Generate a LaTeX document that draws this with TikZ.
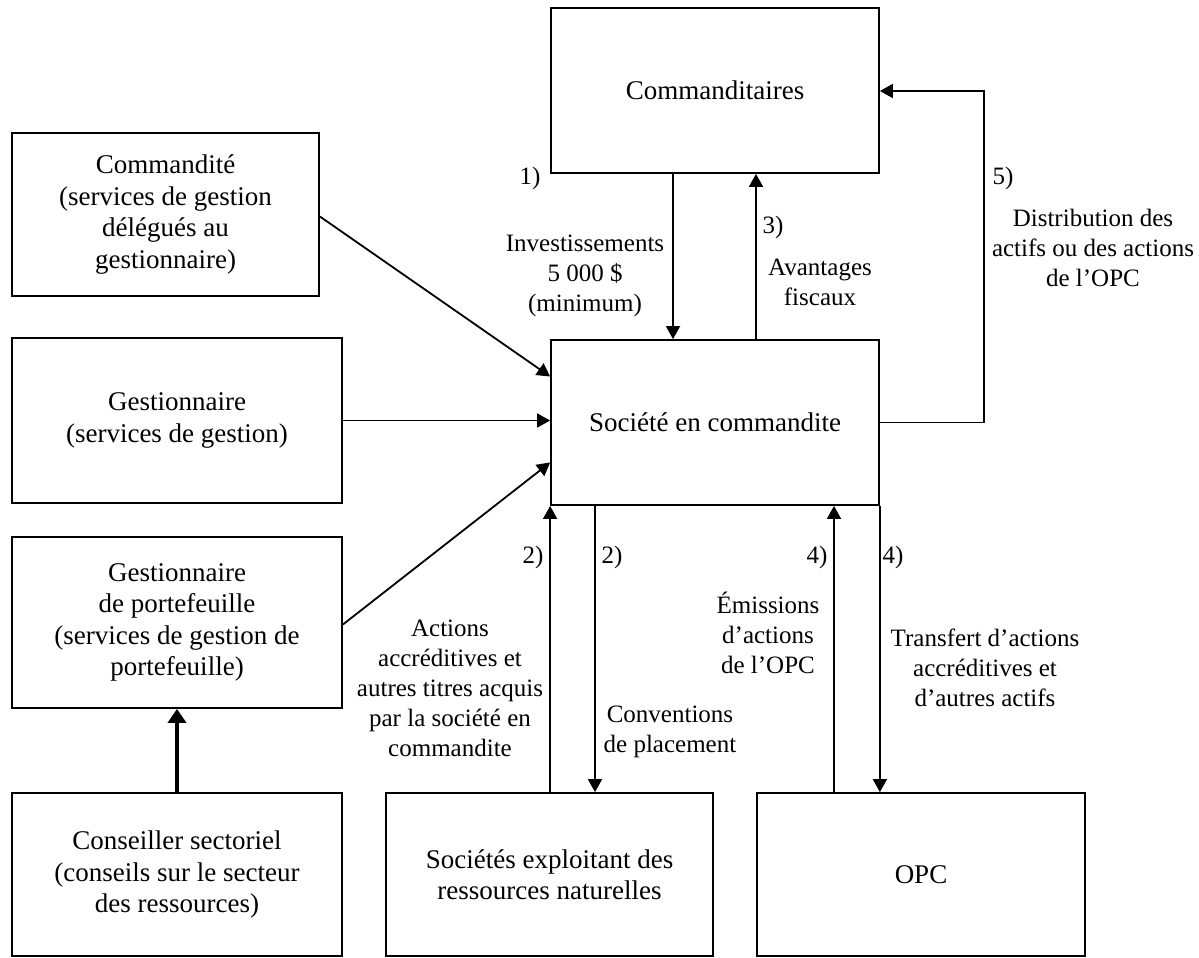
\documentclass[tikz,border=0pt]{standalone}
\usepackage{fontspec}
\setmainfont{Liberation Serif}
\usetikzlibrary{arrows.meta,calc}
\begin{document}
\begin{tikzpicture}[x=0.5pt,y=-0.5pt,
  box/.style={draw,line width=0.9pt,inner sep=0pt,align=center,font=\fontsize{13.5}{15.7}\selectfont},
  lbl/.style={inner sep=0pt,align=center,font=\fontsize{12.5}{15}\selectfont},
  arr/.style={line width=0.9pt,-{Triangle[length=6.5pt,width=7pt]}},
  thickarr/.style={line width=2pt,-{Triangle[length=7pt,width=9pt]}}]
\useasboundingbox (0,0) rectangle (1199,958);
% boxes
\node[box,minimum width=164pt,minimum height=82.5pt] (cmt) at (715,90.5) {Commanditaires};
\node[box,minimum width=153.5pt,minimum height=81.5pt] (cmd) at (165.5,214.5) {Commandité\\(services de gestion\\délégués au\\gestionnaire)};
\node[box,minimum width=165pt,minimum height=82.5pt] (gest) at (177,420.5) {Gestionnaire\\(services de gestion)};
\node[box,minimum width=165pt,minimum height=85.5pt] (gp) at (177,622.5) {Gestionnaire\\de portefeuille\\(services de gestion de\\portefeuille)};
\node[box,minimum width=165pt,minimum height=81.5pt] (cons) at (177,874.5) {Conseiller sectoriel\\(conseils sur le secteur\\des ressources)};
\node[box,minimum width=164pt,minimum height=82.5pt] (sce) at (715,422.5) {Société en commandite};
\node[box,minimum width=163.5pt,minimum height=81.5pt] (sex) at (549.5,874.5) {Sociétés exploitant des\\ressources naturelles};
\node[box,minimum width=164pt,minimum height=81.5pt] (opc) at (921,874.5) {OPC};
% helper coordinates
\coordinate (xa) at (673,0);
\coordinate (xb) at (756,0);
\coordinate (xc) at (595,0);
\coordinate (xd) at (834,0);
\coordinate (c5) at (984,91);
% connectors
\draw[arr] (cmt.south -| xa) -- (sce.north -| xa);
\draw[arr] (sce.north -| xb) -- (cmt.south -| xb);
\draw[arr] (sce.east) -| (c5) -- (c5 -| cmt.east);
\draw[arr] ([yshift=-1pt]cmd.east) -- ([yshift=23pt]sce.west);
\draw[arr] (gest.east) -- (gest.east -| sce.west);
\draw[arr] ([yshift=-1pt]gp.east) -- ([yshift=-20pt]sce.west);
\draw[thickarr] (cons.north) -- (gp.south);
\draw[arr] (sex.north -| sce.west) -- (sce.south west);
\draw[arr] (sce.south -| xc) -- (sex.north -| xc);
\draw[arr] (opc.north -| xd) -- (sce.south -| xd);
\draw[arr] (sce.south east) -- (sce.south east |- opc.north);
% labels
\node[lbl] (l1) at (530,178) {1)};
\node[lbl] (linv) at (585,276) {Investissements\\5 000 \$\\(minimum)};
\node[lbl] (l3) at (773,227) {3)};
\node[lbl] (lav) at (820,282) {Avantages\\fiscaux};
\node[lbl] (l5) at (1003,178) {5)};
\node[lbl] (ldis) at (1093,248) {Distribution des\\actifs ou des actions\\de l’OPC};
\node[lbl] (l2a) at (533,557) {2)};
\node[lbl] (l2b) at (612,557) {2)};
\node[lbl] (lact) at (450,688) {Actions\\accréditives et\\autres titres acquis\\par la société en\\commandite};
\node[lbl] (lconv) at (670,732) {Conventions\\de placement};
\node[lbl] (l4a) at (817,557) {4)};
\node[lbl] (l4b) at (893,557) {4)};
\node[lbl] (lem) at (768,633) {Émissions\\d’actions\\de l’OPC};
\node[lbl] (ltr) at (985,668) {Transfert d’actions\\accréditives et\\d’autres actifs};
\end{tikzpicture}
\end{document}
